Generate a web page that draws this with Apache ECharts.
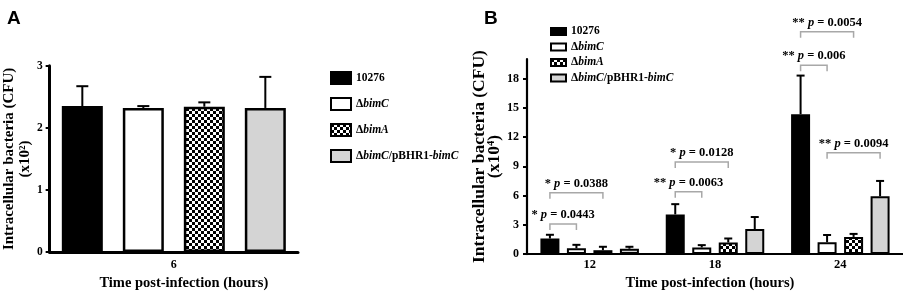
<!DOCTYPE html>
<html><head><meta charset="utf-8">
<script src="https://cdn.jsdelivr.net/npm/echarts@6/dist/echarts.min.js"></script>
<style>html,body{margin:0;padding:0;background:#fff}#c{width:903px;height:296px}</style>
</head><body><div id="c"></div>
<script>
// ---------- DATA ----------
const strains = ['10276', 'ΔbimC', 'ΔbimA', 'ΔbimC/pBHR1-bimC'];

// Panel A (x10^2 CFU), time 6 h
const catsA = ['6'];
const meanA_10276 = [2.35];
const meanA_bimC = [2.32];
const meanA_bimA = [2.34];
const meanA_comp = [2.32];
const upperA_10276 = [2.67];
const upperA_bimC = [2.35];
const upperA_bimA = [2.41];
const upperA_comp = [2.82];
const yTicksA = [0, 1, 2, 3];

// Panel B (x10^4 CFU), times 12/18/24 h
const catsB = ['12', '18', '24'];
const meanB_10276 = [1.6, 4.07, 14.34];
const meanB_bimC = [0.6, 0.68, 1.22];
const meanB_bimA = [0.4, 1.19, 1.76];
const meanB_comp = [0.55, 2.57, 5.93];
const upperB_10276 = [1.98, 5.12, 18.3];
const upperB_bimC = [0.95, 0.92, 1.96];
const upperB_bimA = [0.75, 1.6, 2.07];
const upperB_comp = [0.75, 3.8, 7.5];
const yTicksB = [0, 3, 6, 9, 12, 15, 18];

// significance brackets in panel B: [category index, bracket height, from strain idx, to strain idx]
const sigPos = [[0, 3.08, 0, 1], [0, 6.28, 0, 2], [1, 6.38, 0, 1], [1, 9.43, 0, 2], [2, 19.36, 0, 1], [2, 22.8, 0, 2], [2, 10.38, 1, 3]];
const sigStars = ['*', '*', '**', '*', '**', '**', '**'];
const sigP = ['0.0443', '0.0388', '0.0063', '0.0128', '0.006', '0.0054', '0.0094'];

// ---------- STYLE ----------
const SERIF = "'Liberation Serif','Times New Roman',serif";
function checker() {
  const c = document.createElement('canvas');
  c.width = 6; c.height = 6;
  const g = c.getContext('2d');
  g.fillStyle = '#fff'; g.fillRect(0, 0, 6, 6);
  g.fillStyle = '#000'; g.fillRect(0, 0, 3, 3); g.fillRect(3, 3, 3, 3);
  return c;
}
const pattern = { image: checker(), repeat: 'repeat' };
const fills = ['#000', '#fff', pattern, '#d4d4d4'];

const meansA = [meanA_10276, meanA_bimC, meanA_bimA, meanA_comp];
const uppersA = [upperA_10276, upperA_bimC, upperA_bimA, upperA_comp];
const meansB = [meanB_10276, meanB_bimC, meanB_bimA, meanB_comp];
const uppersB = [upperB_10276, upperB_bimC, upperB_bimA, upperB_comp];

const BW_A = 41, GAP_A = 20, BW_B = 19, GAP_B = 7.5;

function richName(name) {
  return name.split(/(bim[A-Z])/).filter(s => s.length).map(s =>
    /^bim[A-Z]$/.test(s) ? '{i|' + s + '}' : '{b|' + s + '}').join('');
}
const legendRich = {
  b: { fontFamily: SERIF, fontWeight: 'bold', fontSize: 11.5, color: '#000' },
  i: { fontFamily: SERIF, fontWeight: 'bold', fontStyle: 'italic', fontSize: 11.5, color: '#000' }
};

function errSeries(axis, means, uppers, bw, gap, capW) {
  const data = [];
  means.forEach((arr, k) => arr.forEach((m, c) => data.push([c, m, uppers[k][c], k])));
  return {
    type: 'custom', xAxisIndex: axis, yAxisIndex: axis, z: 5, clip: false, silent: true,
    data: data,
    renderItem: function (params, api) {
      const c = api.value(0), m = api.value(1), u = api.value(2), k = api.value(3);
      const p0 = api.coord([c, m]), p1 = api.coord([c, u]);
      const x = p0[0] + (k - 1.5) * (bw + gap);
      return {
        type: 'group', children: [
          { type: 'line', shape: { x1: x, y1: p0[1], x2: x, y2: p1[1] }, style: { stroke: '#000', lineWidth: 2 } },
          { type: 'line', shape: { x1: x - capW / 2, y1: p1[1], x2: x + capW / 2, y2: p1[1] }, style: { stroke: '#000', lineWidth: 2 } }
        ]
      };
    }
  };
}

const series = [];
strains.forEach((s, k) => {
  series.push({
    name: s, type: 'bar', xAxisIndex: 0, yAxisIndex: 0, barWidth: BW_A, barGap: (GAP_A / BW_A * 100) + '%',
    data: meansA[k], itemStyle: { color: fills[k], borderColor: '#000', borderWidth: 2.5 }, z: 3
  });
});
strains.forEach((s, k) => {
  series.push({
    name: s, type: 'bar', xAxisIndex: 1, yAxisIndex: 1, barWidth: BW_B, barGap: (GAP_B / BW_B * 100) + '%',
    data: meansB[k], itemStyle: { color: fills[k], borderColor: '#000', borderWidth: 2 }, z: 3
  });
});
series.push(errSeries(0, meansA, uppersA, BW_A, GAP_A, 12));
series.push(errSeries(1, meansB, uppersB, BW_B, GAP_B, 8));
series.push({
  type: 'custom', xAxisIndex: 1, yAxisIndex: 1, z: 6, clip: false, silent: true,
  data: sigPos,
  renderItem: function (params, api) {
    const c = api.value(0), y = api.value(1), f = api.value(2), t = api.value(3);
    const p = api.coord([c, y]);
    const sp = BW_B + GAP_B;
    const x1 = p[0] + (f - 1.5) * sp, x2 = p[0] + (t - 1.5) * sp;
    const i = params.dataIndex;
    return {
      type: 'group', children: [
        { type: 'polyline', shape: { points: [[x1, p[1] + 6], [x1, p[1]], [x2, p[1]], [x2, p[1] + 6]] }, style: { stroke: '#a8a8a8', lineWidth: 1.5, fill: null } },
        {
          type: 'text', x: (x1 + x2) / 2, y: p[1] - 9,
          style: {
            text: '{b|' + sigStars[i] + ' }{i|p}{b| = ' + sigP[i] + '}',
            align: 'center', verticalAlign: 'middle',
            rich: {
              b: { fontFamily: SERIF, fontWeight: 'bold', fontSize: 12.5, fill: '#000' },
              i: { fontFamily: SERIF, fontWeight: 'bold', fontStyle: 'italic', fontSize: 12.5, fill: '#000' }
            }
          }
        }
      ]
    };
  }
});

const axisLineA = { show: true, lineStyle: { color: '#000', width: 3 } };
const axisLineB = { show: true, lineStyle: { color: '#000', width: 2.2 } };
const tickLab = { fontFamily: SERIF, fontWeight: 'bold', color: '#000' };

const option = {
  animation: false,
  backgroundColor: '#fff',
  title: [
    { text: 'A', left: 2, top: 4, textStyle: { fontFamily: "'Liberation Sans',Arial,sans-serif", fontWeight: 'bold', fontSize: 19, color: '#000' } },
    { text: 'B', left: 479, top: 4, textStyle: { fontFamily: "'Liberation Sans',Arial,sans-serif", fontWeight: 'bold', fontSize: 19, color: '#000' } }
  ],
  legend: [
    {
      data: strains, orient: 'vertical', left: 330, top: 71, padding: 0, itemWidth: 20, itemHeight: 12, itemGap: 12,
      icon: 'rect', selectedMode: false, formatter: richName,
      textStyle: { fontFamily: SERIF, fontWeight: 'bold', fontSize: 11.5, lineHeight: 14, rich: legendRich }
    },
    {
      data: strains, orient: 'vertical', left: 550, top: 24.5, padding: 0, itemWidth: 15, itemHeight: 7, itemGap: 1.5,
      icon: 'rect', selectedMode: false, formatter: richName,
      textStyle: { fontFamily: SERIF, fontWeight: 'bold', fontSize: 11.5, lineHeight: 14, rich: legendRich }
    }
  ],
  grid: [
    { left: 45, top: 65.7, width: 253, height: 190.3 },
    { left: 527, top: 59, width: 376, height: 197 }
  ],
  xAxis: [
    {
      gridIndex: 0, type: 'category', data: catsA,
      axisLine: axisLineA, axisTick: { alignWithLabel: true, length: 5, lineStyle: { width: 2, color: '#000' } },
      axisLabel: Object.assign({ fontSize: 12, margin: 7 }, tickLab),
      name: 'Time post-infection (hours)', nameLocation: 'middle', nameGap: 21,
      nameTextStyle: { fontFamily: SERIF, fontWeight: 'bold', fontSize: 14.5, color: '#000', padding: [0, 0, 0, 20] }
    },
    {
      gridIndex: 1, type: 'category', data: catsB,
      axisLine: axisLineB, axisTick: { alignWithLabel: true, length: 4, lineStyle: { width: 2, color: '#000' } },
      axisLabel: Object.assign({ fontSize: 12.5, margin: 4 }, tickLab),
      name: 'Time post-infection (hours)', nameLocation: 'middle', nameGap: 20,
      nameTextStyle: { fontFamily: SERIF, fontWeight: 'bold', fontSize: 14.5, color: '#000', padding: [0, 10, 0, 0] }
    }
  ],
  yAxis: [
    {
      gridIndex: 0, type: 'value', min: 0, max: 3, interval: 1, splitLine: { show: false },
      axisLine: axisLineA, axisTick: { show: true, length: 4, lineStyle: { width: 2, color: '#000' }, customValues: yTicksA },
      axisLabel: Object.assign({ fontSize: 11.5, margin: 7, customValues: yTicksA }, tickLab),
      name: 'Intracellular bacteria (CFU)\n(x10²)', nameLocation: 'middle', nameGap: 13,
      nameTextStyle: { fontFamily: SERIF, fontWeight: 'bold', fontSize: 15, lineHeight: 16, color: '#000' }
    },
    {
      gridIndex: 1, type: 'value', min: 0, max: 20, interval: 1, splitLine: { show: false },
      axisLine: axisLineB, axisTick: { show: true, length: 4, lineStyle: { width: 2, color: '#000' }, customValues: yTicksB },
      axisLabel: Object.assign({ fontSize: 12, margin: 8, customValues: yTicksB }, tickLab),
      name: 'Intracellular bacteria (CFU)\n(x10⁴)', nameLocation: 'middle', nameGap: 25,
      nameTextStyle: { fontFamily: SERIF, fontWeight: 'bold', fontSize: 17.5, lineHeight: 15, color: '#000' }
    }
  ],
  series: series
};
const chart = echarts.init(document.getElementById('c'), null, { renderer: 'canvas' });
chart.setOption(option);
</script></body></html>
